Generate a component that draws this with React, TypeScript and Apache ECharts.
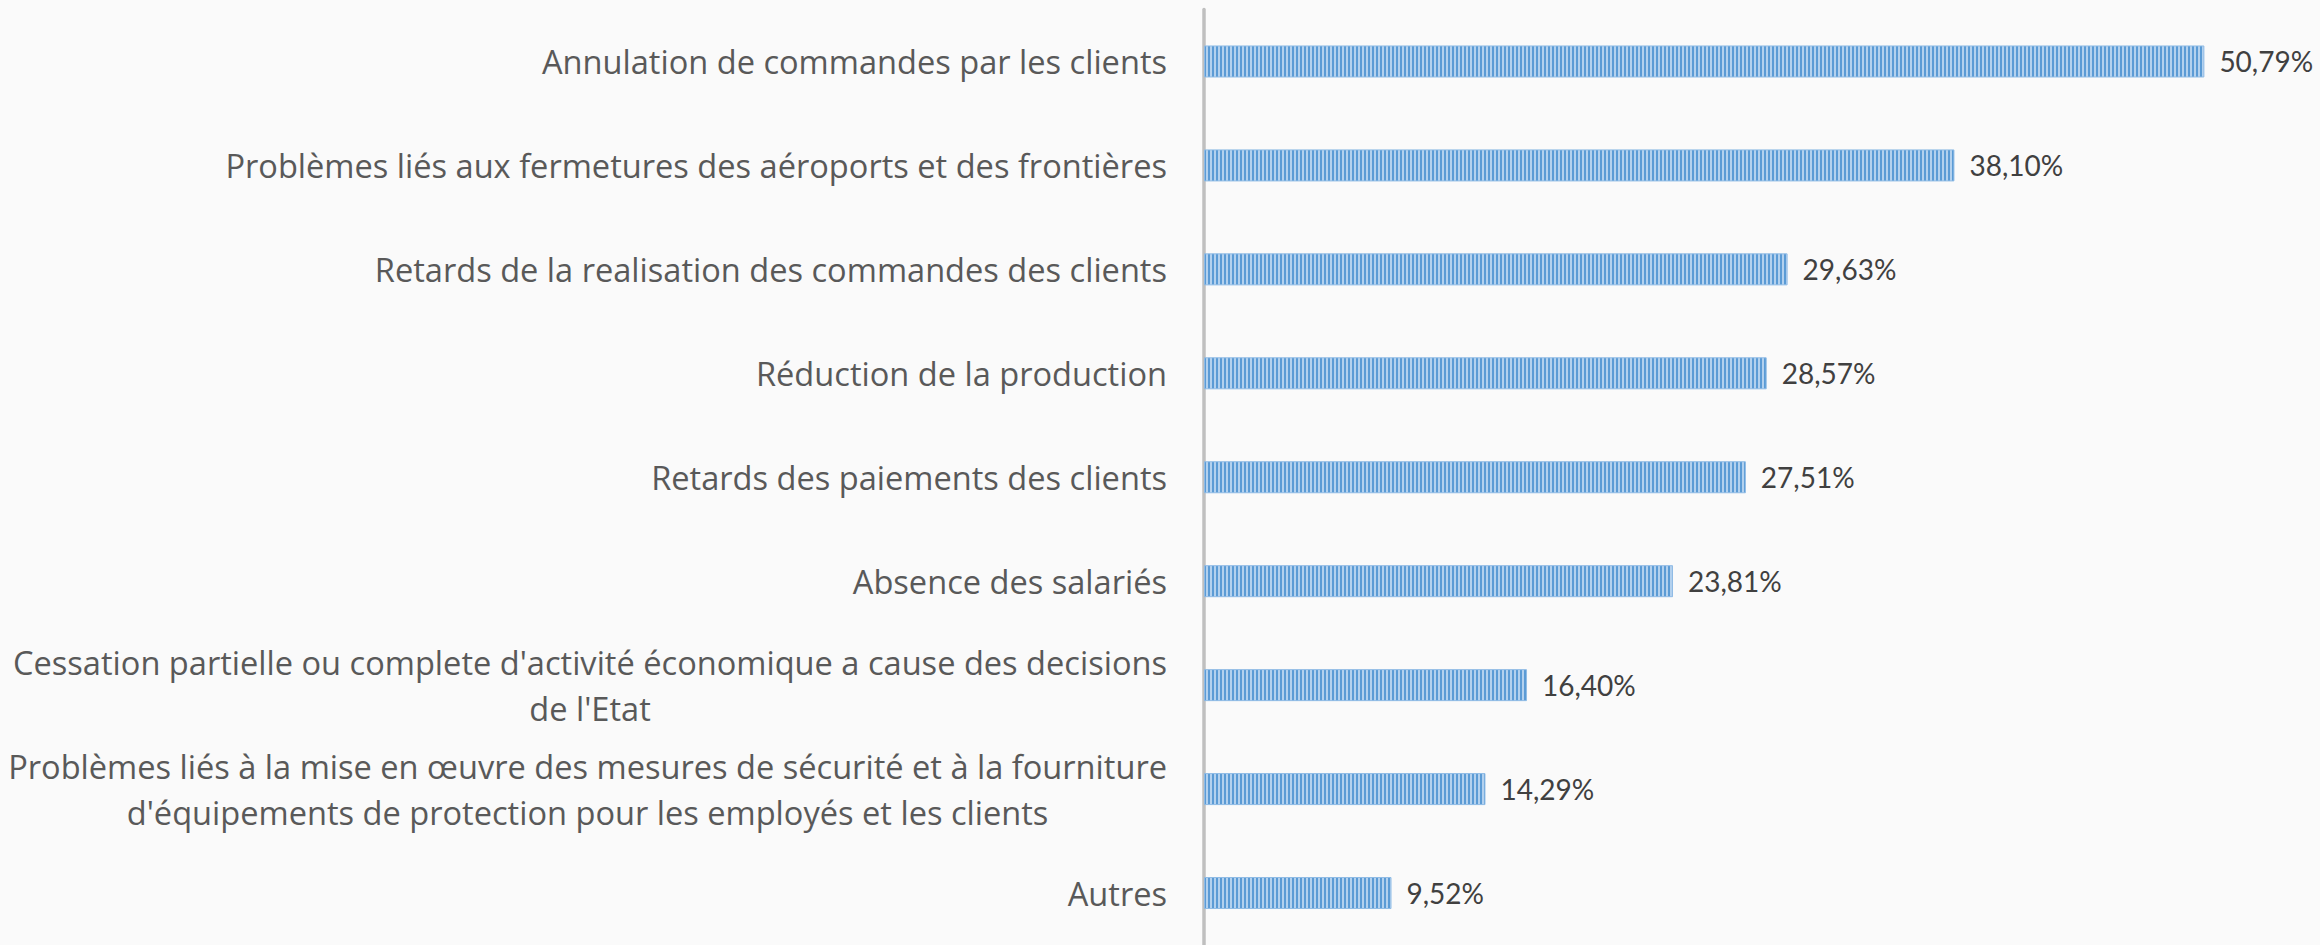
import React, { useEffect, useRef } from "react";
import * as echarts from "echarts";

const categories: string[] = [
  "Annulation de commandes par les clients",
  "Problèmes liés aux fermetures des aéroports et des frontières",
  "Retards de la realisation des commandes des clients",
  "Réduction de la production",
  "Retards des paiements des clients",
  "Absence des salariés",
  "Cessation partielle ou complete d'activité économique a cause des decisions\nde l'Etat",
  "Problèmes liés à la mise en œuvre des mesures de sécurité et à la fourniture\nd'équipements de protection pour les employés et les clients",
  "Autres",
];

const values: number[] = [50.79, 38.1, 29.63, 28.57, 27.51, 23.81, 16.4, 14.29, 9.52];

const CAT_FONT = "Open Sans";
const VAL_FONT = "Lato";

function makePattern(): HTMLCanvasElement {
  const c = document.createElement("canvas");
  c.width = 4;
  c.height = 4;
  const ctx = c.getContext("2d")!;
  ctx.fillStyle = "#5b9bd5";
  ctx.fillRect(0, 0, 4, 4);
  ctx.fillStyle = "#b3d1ee";
  ctx.fillRect(2, 0, 2, 4);
  return c;
}

export default function App() {
  const ref = useRef<HTMLDivElement>(null);
  useEffect(() => {
    if (!ref.current) return;
    const chart = echarts.init(ref.current, undefined, { renderer: "svg" });
    const pattern = makePattern();
    chart.setOption({
      animation: false,
      backgroundColor: "#fafafa",
      grid: { left: 1204, right: 13, top: 9.5, bottom: -7, containLabel: false },
      xAxis: {
        type: "value",
        min: 0,
        max: 56,
        show: false,
        splitLine: { show: false },
      },
      yAxis: {
        type: "category",
        data: categories,
        inverse: true,
        axisLine: { show: true, lineStyle: { color: "#bfbfbf", width: 3.5 } },
        axisTick: { show: false },
        axisLabel: {
          margin: 37,
          fontFamily: CAT_FONT,
          fontSize: 32.6,
          color: "#595959",
          lineHeight: 46,
          formatter: (v: string) =>
            v
              .split("\n")
              .map((l) => "{c|" + l + "}")
              .join("\n"),
          rich: {
            c: {
              align: "center",
              fontFamily: CAT_FONT,
              fontSize: 32.6,
              color: "#595959",
              lineHeight: 46,
            },
          },
        },
      },
      series: [
        {
          type: "bar",
          data: values,
          barWidth: 32,
          itemStyle: {
            color: { image: pattern, repeat: "repeat" } as any,
            borderColor: "#8fbbe5",
            borderWidth: 1,
          },
          label: {
            show: true,
            position: "right",
            distance: 15,
            fontFamily: VAL_FONT,
            fontSize: 28,
            color: "#404040",
            formatter: (p: any) => (p.value as number).toFixed(2).replace(".", ",") + "%",
          },
        },
      ],
    });
    return () => chart.dispose();
  }, []);
  return (
    <div
      ref={ref}
      style={{ position: "fixed", left: 0, top: 0, width: 2320, height: 945 }}
    />
  );
}
